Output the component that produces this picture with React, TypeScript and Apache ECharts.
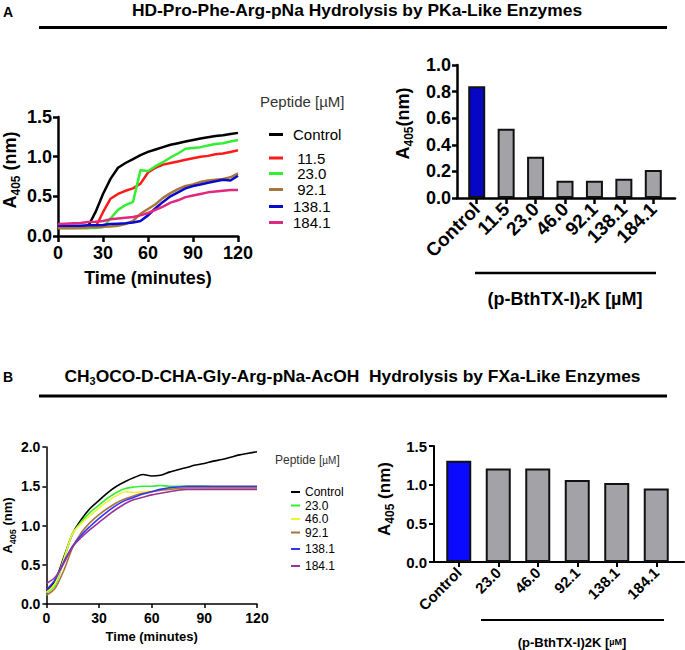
import React, { useEffect, useRef } from "react";
import * as echarts from "echarts";

// ---------- Panel A (PKa-like) ----------
const timeA = [0, 5, 10, 15, 20, 25, 30, 35, 40, 45, 50, 55, 60, 65, 70, 75, 80, 85, 90, 95, 100, 105, 110, 115, 120];
const aControl = [0.11, 0.11, 0.11, 0.11, 0.12, 0.3, 0.53, 0.72, 0.86, 0.92, 0.97, 1.02, 1.06, 1.09, 1.12, 1.15, 1.17, 1.19, 1.21, 1.23, 1.245, 1.26, 1.27, 1.285, 1.3];
const a115 = [0.1, 0.1, 0.1, 0.1, 0.1, 0.11, 0.3, 0.47, 0.53, 0.57, 0.6, 0.66, 0.8, 0.86, 0.9, 0.92, 0.94, 0.96, 0.98, 1.0, 1.01, 1.03, 1.04, 1.06, 1.08];
const a230 = [0.1, 0.1, 0.1, 0.1, 0.1, 0.1, 0.11, 0.22, 0.33, 0.39, 0.43, 0.83, 0.82, 0.88, 0.93, 0.99, 1.04, 1.1, 1.11, 1.12, 1.14, 1.16, 1.17, 1.19, 1.21];
const a921 = [0.1, 0.1, 0.1, 0.105, 0.11, 0.11, 0.115, 0.12, 0.13, 0.15, 0.19, 0.28, 0.34, 0.4, 0.48, 0.54, 0.59, 0.63, 0.65, 0.68, 0.7, 0.71, 0.72, 0.74, 0.79];
const a1381 = [0.13, 0.13, 0.13, 0.13, 0.135, 0.135, 0.14, 0.15, 0.155, 0.16, 0.17, 0.19, 0.26, 0.35, 0.43, 0.5, 0.55, 0.6, 0.63, 0.65, 0.67, 0.69, 0.71, 0.7, 0.76];
const a1841 = [0.15, 0.155, 0.16, 0.165, 0.175, 0.18, 0.19, 0.21, 0.22, 0.23, 0.24, 0.26, 0.29, 0.33, 0.37, 0.42, 0.45, 0.49, 0.51, 0.53, 0.55, 0.56, 0.57, 0.58, 0.58];
const barCatsA = ["Control", "11.5", "23.0", "46.0", "92.1", "138.1", "184.1"];
const barValsA = [0.84, 0.52, 0.31, 0.13, 0.13, 0.145, 0.21];

// ---------- Panel B (FXa-like) ----------
const timeB = [0, 5, 10, 15, 20, 25, 30, 35, 40, 45, 50, 55, 60, 65, 70, 75, 80, 85, 90, 95, 100, 105, 110, 115, 120];
const bControl = [0.16, 0.3, 0.6, 0.9, 1.08, 1.22, 1.32, 1.42, 1.5, 1.56, 1.61, 1.65, 1.63, 1.64, 1.68, 1.71, 1.74, 1.77, 1.79, 1.82, 1.84, 1.87, 1.9, 1.92, 1.94];
const b230 = [0.14, 0.24, 0.56, 0.9, 1.05, 1.17, 1.26, 1.35, 1.42, 1.47, 1.49, 1.5, 1.5, 1.51, 1.5, 1.5, 1.5, 1.5, 1.5, 1.49, 1.49, 1.49, 1.49, 1.49, 1.49];
const b460 = [0.15, 0.26, 0.58, 0.9, 1.03, 1.13, 1.22, 1.31, 1.38, 1.43, 1.42, 1.43, 1.44, 1.46, 1.47, 1.48, 1.49, 1.49, 1.48, 1.48, 1.48, 1.48, 1.48, 1.48, 1.48];
const b921 = [0.11, 0.2, 0.43, 0.72, 0.91, 1.04, 1.14, 1.22, 1.29, 1.34, 1.38, 1.41, 1.43, 1.45, 1.46, 1.47, 1.48, 1.48, 1.48, 1.48, 1.48, 1.48, 1.48, 1.48, 1.48];
const b1381 = [0.18, 0.31, 0.54, 0.74, 0.88, 0.99, 1.09, 1.18, 1.26, 1.32, 1.36, 1.4, 1.43, 1.46, 1.48, 1.49, 1.5, 1.5, 1.5, 1.5, 1.5, 1.5, 1.5, 1.5, 1.5];
const b1841 = [0.26, 0.34, 0.52, 0.73, 0.85, 0.95, 1.04, 1.13, 1.21, 1.28, 1.33, 1.36, 1.39, 1.41, 1.43, 1.45, 1.46, 1.46, 1.46, 1.46, 1.46, 1.46, 1.46, 1.46, 1.46];
const barCatsB = ["Control", "23.0", "46.0", "92.1", "138.1", "184.1"];
const barValsB = [1.31, 1.21, 1.21, 1.06, 1.02, 0.95];

const F = "'Liberation Sans', Arial, Helvetica, sans-serif";

const linesA = [
  { name: "A:Control", data: aControl, color: "#000000", y: 134 },
  { name: "A:11.5", data: a115, color: "#ff1a1a", y: 157.5 },
  { name: "A:23.0", data: a230, color: "#33ee33", y: 173 },
  { name: "A:92.1", data: a921, color: "#a8763a", y: 189 },
  { name: "A:138.1", data: a1381, color: "#0a0acc", y: 206 },
  { name: "A:184.1", data: a1841, color: "#e0287f", y: 222 },
];
const linesB = [
  { name: "B:Control", data: bControl, color: "#000000", y: 492 },
  { name: "B:23.0", data: b230, color: "#33f033", y: 505.5 },
  { name: "B:46.0", data: b460, color: "#f2f230", y: 519 },
  { name: "B:92.1", data: b921, color: "#a8763a", y: 532.5 },
  { name: "B:138.1", data: b1381, color: "#3333ff", y: 549 },
  { name: "B:184.1", data: b1841, color: "#993399", y: 566 },
];

function App() {
  const ref = useRef<HTMLDivElement>(null);
  useEffect(() => {
    if (!ref.current) return;
    const chart = echarts.init(ref.current, undefined, { renderer: "svg" });
    const bold = (s: number) => ({ fontFamily: F, fontSize: s, fontWeight: "bold" as const, color: "#000" });
    const valueX = (grid: number, lw: number, tl: number, fs: number, margin: number, name: string, gap: number, nfs: number) => ({
      type: "value", gridIndex: grid, min: 0, max: 120, interval: 30,
      axisLine: { show: true, onZero: false, lineStyle: { color: "#000", width: lw } },
      axisTick: { show: true, length: tl, lineStyle: { color: "#000", width: lw } },
      axisLabel: { ...bold(fs), margin },
      splitLine: { show: false },
      name, nameLocation: "middle", nameGap: gap, nameTextStyle: bold(nfs),
    });
    const valueY = (grid: number, max: number, interval: number, lw: number, tl: number, fs: number, margin: number, offset: number, name: string, gap: number, big: number, small: number, pad: number[]) => ({
      type: "value", gridIndex: grid, min: 0, max, interval, offset,
      axisLine: { show: true, lineStyle: { color: "#000", width: lw } },
      axisTick: { show: true, length: tl, lineStyle: { color: "#000", width: lw } },
      axisLabel: { ...bold(fs), margin, formatter: (v: number) => v.toFixed(1) },
      splitLine: { show: false },
      name, nameLocation: "middle", nameGap: gap, nameRotate: 90,
      nameTextStyle: {
        padding: pad,
        rich: {
          a: { fontFamily: F, fontSize: big, fontWeight: "bold", color: "#000", lineHeight: big + 6 },
          s: { fontFamily: F, fontSize: small, fontWeight: "bold", color: "#000", lineHeight: small, verticalAlign: "bottom" },
        },
      },
    });
    const catX = (grid: number, data: string[], tl: number, lw: number, fs: number) => ({
      type: "category", gridIndex: grid, data,
      axisLine: { show: false },
      axisTick: { show: true, alignWithLabel: true, length: tl, lineStyle: { color: "#000", width: lw } },
      axisLabel: { ...bold(fs), rotate: 45, margin: 8, interval: 0 },
    });
    const baseX = (grid: number, lw: number) => ({
      type: "value", gridIndex: grid, min: 0, max: 1,
      axisLine: { show: true, onZero: false, lineStyle: { color: "#000", width: lw } },
      axisTick: { show: false }, axisLabel: { show: false }, splitLine: { show: false },
    });
    const hiddenY = (grid: number) => ({ type: "value", gridIndex: grid, min: 0, max: 1, show: false });

    const legA = linesA.map((l) => ({
      data: [l.name], left: 269, top: l.y - 7, padding: 0, icon: "rect", itemWidth: 14, itemHeight: 3,
      selectedMode: false,
      formatter: (n: string) => { const s = n.slice(2); return s.length === 4 ? "\u00A0" + s : s; },
      textStyle: { fontFamily: F, fontSize: 15, color: "#000", lineHeight: 14, padding: [0, 0, 0, 5] },
    }));
    const legB = linesB.map((l) => ({
      data: [l.name], left: 291, top: l.y - 6, padding: 0, icon: "rect", itemWidth: 9, itemHeight: 2,
      selectedMode: false,
      formatter: (n: string) => n.slice(2),
      textStyle: { fontFamily: F, fontSize: 12, color: "#000", lineHeight: 12 },
    }));

    const barSeries = (xi: number, yi: number, vals: number[], width: number, blue: string, bw: number) => ({
      type: "bar", xAxisIndex: xi, yAxisIndex: yi, barWidth: width,
      data: vals.map((v, i) => ({ value: v, itemStyle: { color: i === 0 ? blue : "#a3a3a7" } })),
      itemStyle: { borderColor: "#111", borderWidth: bw },
    });

    chart.setOption({
      animation: false,
      grid: [
        { left: 58, top: 117, width: 180, height: 119 },
        { left: 462, top: 65, width: 206, height: 133 },
        { left: 46, top: 447, width: 211, height: 157 },
        { left: 439, top: 446, width: 237, height: 116 },
        { left: 457, top: 65, width: 218, height: 133 },
        { left: 434, top: 446, width: 250, height: 116 },
      ],
      xAxis: [
        valueX(0, 2.5, 6, 18, 8, "Time (minutes)", 33, 18),
        catX(1, barCatsA, 6, 2.5, 19),
        valueX(2, 1.5, 4, 14, 7, "Time (minutes)", 26, 13),
        catX(3, barCatsB, 5, 2, 15),
        baseX(4, 2.5),
        baseX(5, 2),
      ],
      yAxis: [
        valueY(0, 1.5, 0.5, 2.5, 5, 18, 6, 0, "{a|A}{s|405}{a| (nm)}", 36, 18, 12, [0, 0, 0, 13]),
        valueY(1, 1.0, 0.2, 2.5, 5, 18, 6, 5, "{a|A}{s|405}{a|(nm)}", 42, 18, 12, [0, 0, 0, 16]),
        valueY(2, 2.0, 0.5, 1.5, 4, 14, 6, 0, "{a|A}{s|405}{a| (nm)}", 28, 13, 9, [0, 0, 0, 0]),
        valueY(3, 1.5, 0.5, 2, 5, 15, 7, 5, "{a|A}{s|405}{a| (nm)}", 38, 17, 12, [0, 0, 0, 10]),
        hiddenY(4),
        hiddenY(5),
      ],
      legend: [...legA, ...legB],
      series: [
        ...linesA.map((l) => ({
          type: "line", name: l.name, xAxisIndex: 0, yAxisIndex: 0, showSymbol: false,
          color: l.color, lineStyle: { color: l.color, width: 2.5 },
          data: timeA.map((t, i) => [t, l.data[i]]),
        })),
        barSeries(1, 1, barValsA, 17, "#0606c4", 2),
        ...linesB.map((l) => ({
          type: "line", name: l.name, xAxisIndex: 2, yAxisIndex: 2, showSymbol: false, smooth: 0.3,
          color: l.color, lineStyle: { color: l.color, width: 1.6 },
          data: timeB.map((t, i) => [t, l.data[i]]),
        })),
        barSeries(3, 3, barValsB, 25, "#0a0aff", 2),
      ],
      graphic: [
        { type: "text", x: 8, y: 12, style: { text: "A", font: `bold 14px ${F}`, fill: "#000", textAlign: "center", textVerticalAlign: "middle" } },
        { type: "text", x: 357, y: 11, scaleX: 1.087, style: { text: "HD-Pro-Phe-Arg-pNa Hydrolysis by PKa-Like Enzymes", font: `bold 16px ${F}`, fill: "#000", textAlign: "center", textVerticalAlign: "middle" } },
        { type: "line", shape: { x1: 39, y1: 27.5, x2: 667, y2: 27.5 }, style: { stroke: "#000", lineWidth: 3 } },
        { type: "text", x: 8, y: 377, style: { text: "B", font: `bold 14px ${F}`, fill: "#000", textAlign: "center", textVerticalAlign: "middle" } },
        {
          type: "text", x: 352.5, y: 377, scaleX: 1.087,
          style: {
            text: "{a|CH}{s|3}{a|OCO-D-CHA-Gly-Arg-pNa-AcOH  Hydrolysis by FXa-Like Enzymes}",
            textAlign: "center", textVerticalAlign: "middle",
            rich: {
              a: { font: `bold 16px ${F}`, fill: "#000", lineHeight: 20 },
              s: { font: `bold 10px ${F}`, fill: "#000", lineHeight: 10, verticalAlign: "bottom" },
            },
          },
        },
        { type: "line", shape: { x1: 39, y1: 396, x2: 667, y2: 396 }, style: { stroke: "#000", lineWidth: 3 } },
        { type: "text", x: 260, y: 101, style: { text: "Peptide [µM]", font: `15px ${F}`, fill: "#333", textVerticalAlign: "middle" } },
        {
          type: "text", x: 275, y: 460,
          style: {
            text: "{a|Peptide [}{m|µM}{a|]}", textVerticalAlign: "middle",
            rich: { a: { font: `12px ${F}`, fill: "#333" }, m: { font: `10px ${F}`, fill: "#333" } },
          },
        },
        { type: "line", shape: { x1: 475, y1: 273, x2: 656, y2: 273 }, style: { stroke: "#000", lineWidth: 2.5 } },
        {
          type: "text", x: 565, y: 299,
          style: {
            text: "{a|(p-BthTX-I)}{s|2}{a|K [µM]}", textAlign: "center", textVerticalAlign: "middle",
            rich: {
              a: { font: `bold 18px ${F}`, fill: "#000", lineHeight: 22 },
              s: { font: `bold 12px ${F}`, fill: "#000", lineHeight: 12, verticalAlign: "bottom" },
            },
          },
        },
        { type: "line", shape: { x1: 481, y1: 620, x2: 664, y2: 620 }, style: { stroke: "#000", lineWidth: 1.8 } },
        {
          type: "text", x: 572, y: 642,
          style: {
            text: "{a|(p-BthTX-I)2K [}{m|µM}{a|]}", textAlign: "center", textVerticalAlign: "middle",
            rich: { a: { font: `bold 13px ${F}`, fill: "#000" }, m: { font: `bold 9px ${F}`, fill: "#000" } },
          },
        },
      ],
    });
    return () => chart.dispose();
  }, []);
  return <div ref={ref} style={{ position: "absolute", left: 0, top: 0, width: 685, height: 650 }} />;
}

export default App;
